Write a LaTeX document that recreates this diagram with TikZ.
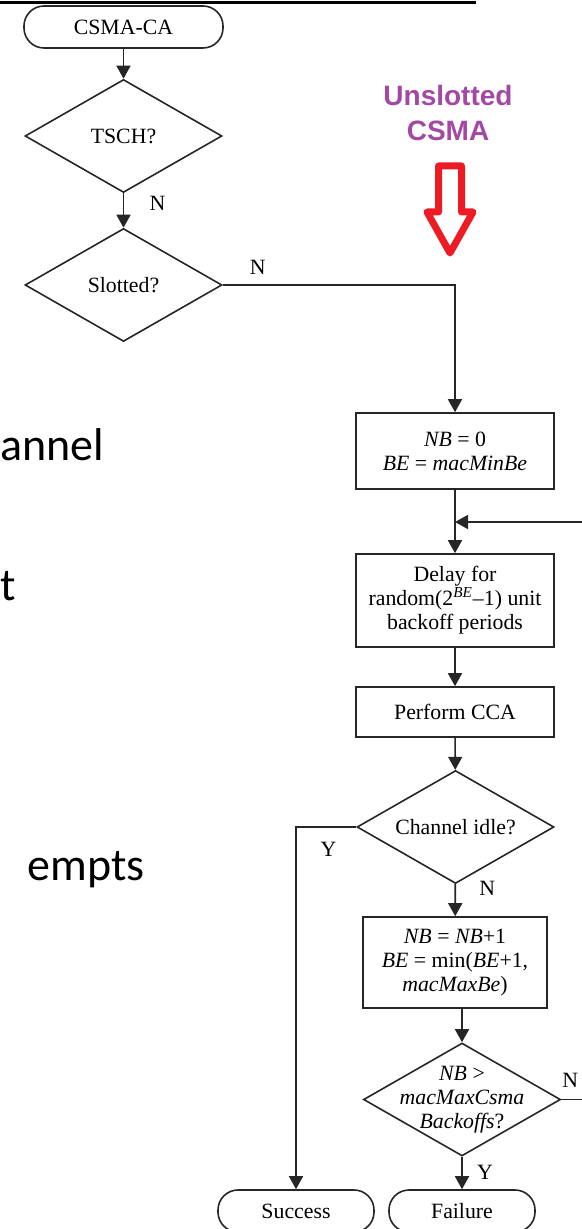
\documentclass[tikz,border=0pt]{standalone}
\usepackage{fontspec}
\setmainfont{Liberation Serif}
\newfontfamily\slidefont{Carlito}
\newfontfamily\notefont{Liberation Sans}
\usetikzlibrary{shapes.geometric,arrows.meta}
\definecolor{notepurple}{RGB}{163,73,164}
\definecolor{arrowred}{RGB}{237,28,36}

\begin{document}
\begin{tikzpicture}[x=0.5pt,y=-0.5pt,
  >={Triangle[width=7pt,length=6.5pt]},
  line/.style={draw=black!85,line width=0.8pt},
  flowtext/.style={font=\fontsize{10.9}{12}\selectfont,align=center},
  procbox/.style={line,flowtext,rectangle,minimum width=99pt,inner sep=2pt},
  termbox/.style={line,flowtext,rectangle,rounded corners=10pt,minimum height=21pt,inner sep=2pt},
  decision/.style={line,diamond,inner sep=0pt,minimum width=98.5pt,minimum height=56.5pt},
  lbl/.style={flowtext,inner sep=0pt},
  slide/.style={font=\slidefont\fontsize{23}{27}\selectfont,inner sep=0pt,anchor=base west}]
\useasboundingbox (0,0) rectangle (582,1229);
% filet du haut
\draw[black,line width=1.5pt] (0,3) -- (476,3);
% texte de la diapositive
\node[slide] (txtA) at (0,460) {annel};
\node[slide] (txtB) at (0,600) {t};
\node[slide] (txtC) at (27,880) {empts};
% note violette et grosse fleche rouge
\node[font=\notefont\bfseries\fontsize{14}{17.5}\selectfont,text=notepurple,align=center,inner sep=0pt] (unslotted) at (448,113) {Unslotted\\CSMA};
\draw[arrowred,line width=3.5pt,line join=round] (438.5,166) -- (461.5,166) -- (461.5,212) -- (473,212)
  -- (450,253) -- (427,212) -- (438.5,212) -- cycle;
% colonne de gauche
\node[termbox,minimum width=99.5pt] (start) at (123.5,27) {CSMA-CA};
\node[decision,label={[flowtext]center:TSCH?}] (tsch) at (123.5,136) {};
\node[decision,label={[flowtext]center:Slotted?}] (slotted) at (123.5,285) {};
% colonne de droite
\node[procbox,minimum height=38pt] (nbzero) at (455,451) {\textit{NB} = 0\\\textit{BE} = \textit{macMinBe}};
\node[procbox,minimum height=46.5pt] (delay) at (455,600.5) {Delay for\\random(2\textsuperscript{\textit{BE}}–1) unit\\backoff periods};
\node[procbox,minimum height=25pt] (cca) at (455,712) {Perform CCA};
\node[decision,label={[flowtext]center:Channel idle?}] (idle) at (455.5,827) {};
\node[procbox,minimum width=92pt,minimum height=45.5pt] (incr) at (455,962.5) {\textit{NB} = \textit{NB}+1\\\textit{BE} = min(\textit{BE}+1,\\\textit{macMaxBe})};
\node[decision,label={[flowtext]center:\textit{NB} >\\\textit{macMaxCsma}\\\textit{Backoffs}?}] (maxcheck) at (462,1099.5) {};
\node[termbox,minimum width=78pt] (success) at (296,1211) {Success};
\node[termbox,minimum width=73pt] (failure) at (462,1211) {Failure};
\coordinate (loopin) at (582,522);
\coordinate (loopout) at (582,1099.5);
% fleches
\draw[line,->] (start) -- (tsch);
\draw[line,->] (tsch) -- node[lbl,pos=0.28,xshift=17pt] {N} (slotted);
\draw[line,->] (slotted.east) -| node[lbl,pos=0.075,yshift=9pt] {N} (nbzero.north);
\draw[line,->] (nbzero) -- (delay);
\draw[line,->] (loopin) -- (loopin -| delay.north);
\draw[line,->] (delay) -- (cca);
\draw[line,->] (cca) -- (idle);
\draw[line,->] (idle.west) -| node[lbl,pos=0.23,yshift=-11pt] {Y} (success.north);
\draw[line,->] (idle) -- node[lbl,pos=0.12,xshift=16pt] {N} (incr);
\draw[line,->] (maxcheck.north |- incr.south) -- (maxcheck.north);
\draw[line,->] (maxcheck) -- node[lbl,pos=0.47,xshift=11.5pt] {Y} (failure);
\draw[line] (maxcheck.east) -- node[lbl,pos=0.43,yshift=9.5pt] {N} (loopout);
\end{tikzpicture}
\end{document}
